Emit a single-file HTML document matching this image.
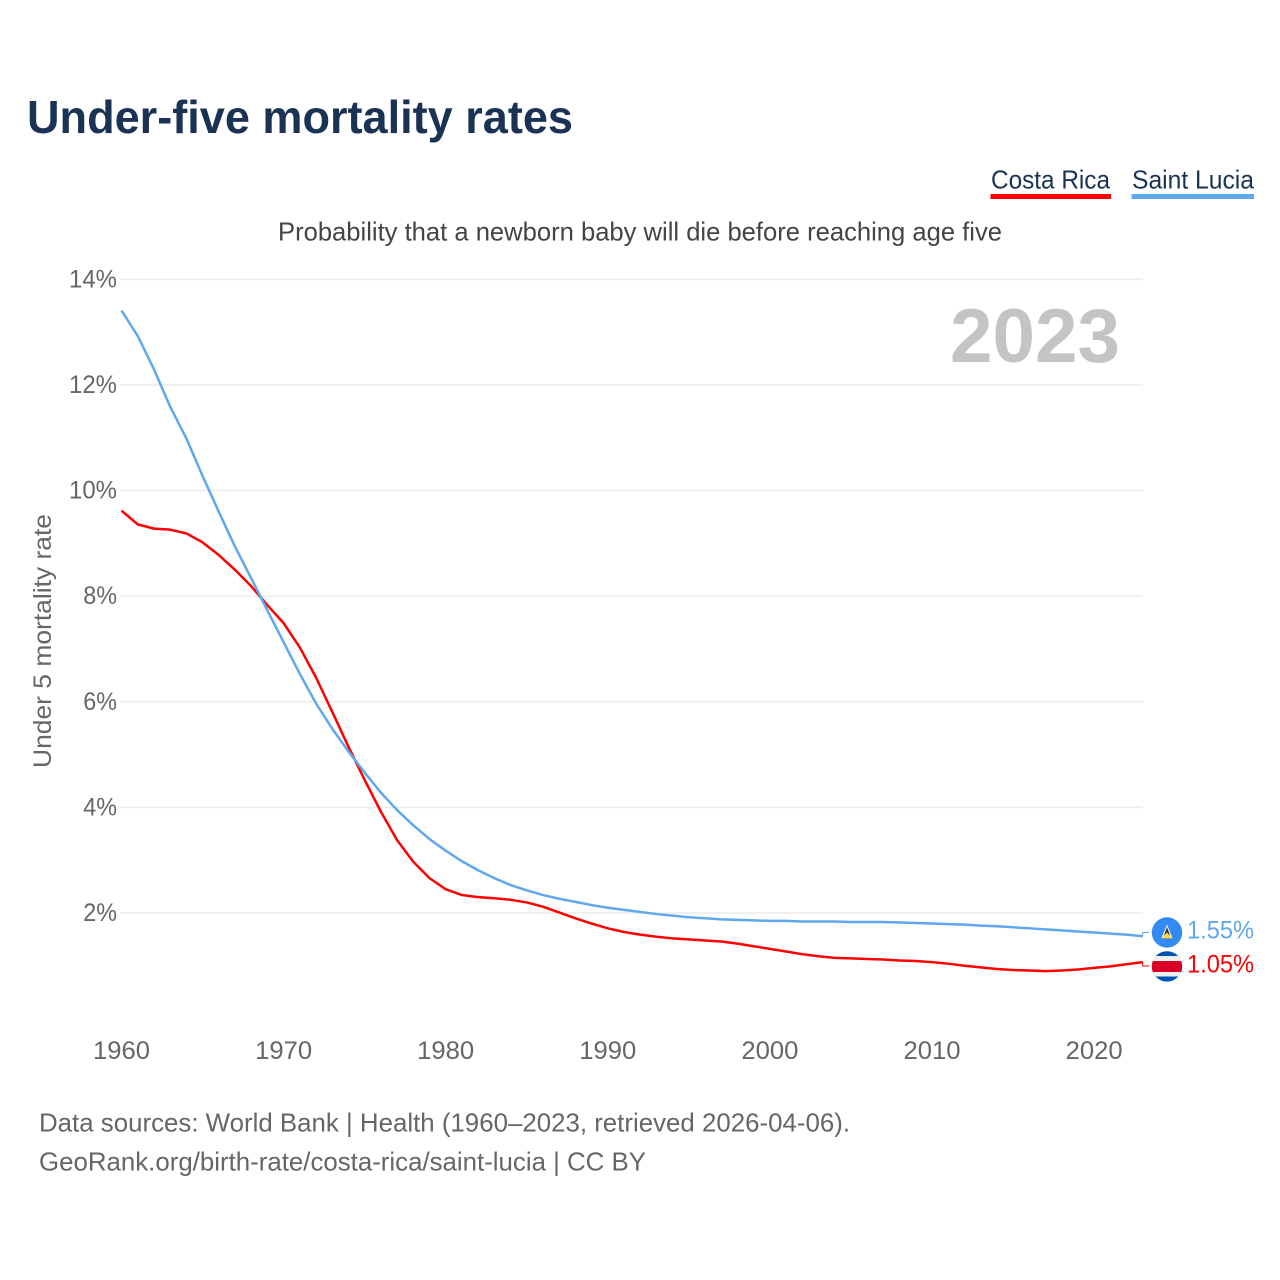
<!DOCTYPE html>
<html lang="en">
<head>
<meta charset="utf-8">
<title>Under-five mortality rates</title>
<style>
  html, body { margin: 0; padding: 0; background: #ffffff; }
  #chart { display: block; width: 1280px; height: 1280px; font-family: "Liberation Sans", sans-serif; }
  .tick { font-size: 25px; fill: #666666; }
</style>
</head>
<body>
<svg id="chart" xmlns="http://www.w3.org/2000/svg" width="1280" height="1280" viewBox="0 0 1280 1280">
  <rect x="0" y="0" width="1280" height="1280" fill="#ffffff"/>
  <text x="27" y="133" font-size="46" font-weight="700" fill="#1a3355" textLength="546" lengthAdjust="spacingAndGlyphs">Under-five mortality rates</text>

  <g>
    <text x="991" y="188.5" font-size="26" fill="#1a3355" textLength="119" lengthAdjust="spacingAndGlyphs">Costa Rica</text>
    <rect x="990.5" y="194" width="120.5" height="5" fill="#ff0000"/>
  </g>
  <g>
    <text x="1132" y="188.5" font-size="26" fill="#1a3355" textLength="122" lengthAdjust="spacingAndGlyphs">Saint Lucia</text>
    <rect x="1131.5" y="194" width="122.5" height="5" fill="#5fa8ee"/>
  </g>

  <text x="278" y="240.5" font-size="26" fill="#444444" textLength="724" lengthAdjust="spacingAndGlyphs">Probability that a newborn baby will die before reaching age five</text>

  <g id="grid"></g>
  <g id="yticks"></g>
  <g id="xticks"></g>

  <text x="950" y="362" font-size="76" font-weight="700" fill="#c4c4c4" textLength="170" lengthAdjust="spacingAndGlyphs">2023</text>
  <text transform="translate(51,768) rotate(-90)" x="0" y="0" font-size="25" fill="#666666" textLength="254" lengthAdjust="spacingAndGlyphs">Under 5 mortality rate</text>

  <g id="series"></g>

  <defs>
    <clipPath id="clip-lc"><circle cx="1167" cy="932.5" r="15.2"/></clipPath>
    <clipPath id="clip-cr"><circle cx="1167" cy="966.4" r="15.2"/></clipPath>
  </defs>
  <g clip-path="url(#clip-lc)">
    <rect x="1151" y="917" width="32" height="32" fill="#338af3"/>
    <polygon points="1167,924.5 1172.6,938.2 1161.4,938.2" fill="#f0f0f0"/>
    <polygon points="1167,927 1171,938.2 1163,938.2" fill="#333333"/>
    <polygon points="1167,932.5 1172.6,938.2 1161.4,938.2" fill="#ffda44"/>
  </g>
  <g clip-path="url(#clip-cr)">
    <rect x="1151" y="951" width="32" height="31" fill="#0052b4"/>
    <rect x="1151" y="956" width="32" height="20.5" fill="#f0f0f0"/>
    <rect x="1151" y="961" width="32" height="11" fill="#d80027"/>
  </g>

  <text id="label-lc" x="1187" y="938.5" font-size="25" fill="#5fa8ee" textLength="67" lengthAdjust="spacingAndGlyphs"></text>
  <text id="label-cr" x="1187" y="972.5" font-size="25" fill="#ff0000" textLength="67" lengthAdjust="spacingAndGlyphs"></text>

  <text x="39" y="1131.5" font-size="26" fill="#666666" textLength="811" lengthAdjust="spacingAndGlyphs">Data sources: World Bank | Health (1960–2023, retrieved 2026-04-06).</text>
  <text x="39" y="1170.5" font-size="26" fill="#666666" textLength="607" lengthAdjust="spacingAndGlyphs">GeoRank.org/birth-rate/costa-rica/saint-lucia | CC BY</text>
</svg>

<script>
const startYear = 1960;
const yTickValues = [2, 4, 6, 8, 10, 12, 14];
const yTickLabels = ["2%", "4%", "6%", "8%", "10%", "12%", "14%"];
const xTickValues = [1960, 1970, 1980, 1990, 2000, 2010, 2020];
const xTickLabels = ["1960", "1970", "1980", "1990", "2000", "2010", "2020"];
const costaRicaValues = [
  9.62, 9.36, 9.28, 9.26, 9.19, 9.02, 8.78, 8.50, 8.19, 7.83,
  7.49, 7.03, 6.46, 5.81, 5.15, 4.52, 3.92, 3.38, 2.97, 2.66,
  2.45, 2.34, 2.30, 2.28, 2.25, 2.20, 2.12, 2.01, 1.90, 1.80,
  1.71, 1.64, 1.59, 1.55, 1.52, 1.50, 1.48, 1.46, 1.42, 1.37,
  1.32, 1.27, 1.22, 1.18, 1.15, 1.14, 1.13, 1.12, 1.10, 1.09,
  1.07, 1.04, 1.00, 0.97, 0.94, 0.92, 0.91, 0.90, 0.91, 0.93,
  0.96, 0.99, 1.03, 1.07
];
const saintLuciaValues = [
  13.41, 12.93, 12.30, 11.59, 10.99, 10.28, 9.60, 8.94, 8.34, 7.73,
  7.13, 6.53, 5.97, 5.49, 5.06, 4.66, 4.28, 3.95, 3.66, 3.40,
  3.18, 2.98, 2.81, 2.66, 2.53, 2.43, 2.34, 2.27, 2.21, 2.15,
  2.10, 2.06, 2.02, 1.98, 1.95, 1.92, 1.90, 1.88, 1.87, 1.86,
  1.85, 1.85, 1.84, 1.84, 1.84, 1.83, 1.83, 1.83, 1.82, 1.81,
  1.80, 1.79, 1.78, 1.76, 1.75, 1.73, 1.71, 1.69, 1.67, 1.65,
  1.63, 1.61, 1.59, 1.56
];
const endValueLabels = ["1.05%", "1.55%"];

const SVG_NS = "http://www.w3.org/2000/svg";
function xScale(year) { return 121.5 + (year - 1960) * 16.21; }
function yScale(value) { return 1018.6 - value * 52.8; }
function make(tag) { return document.createElementNS(SVG_NS, tag); }

const gridGroup = document.getElementById("grid");
const yTickGroup = document.getElementById("yticks");
yTickValues.forEach(function (v, i) {
  const line = make("line");
  
  
  line.setAttribute("x1", 120.5);
  line.setAttribute("x2", xScale(2023));
  line.setAttribute("y1", yScale(v));
  line.setAttribute("y2", yScale(v));
  line.setAttribute("stroke", "#ececec");
  line.setAttribute("stroke-width", 1.5);
  gridGroup.appendChild(line);

  const label = make("text");
  
  
  label.setAttribute("class", "tick");
  label.setAttribute("text-anchor", "end");
  label.setAttribute("x", 117);
  label.setAttribute("y", yScale(v) + 8);
  label.setAttribute("textLength", (yTickLabels[i].length - 1) * 14.25 + 19.5);
  label.setAttribute("lengthAdjust", "spacingAndGlyphs");
  label.textContent = yTickLabels[i];
  yTickGroup.appendChild(label);
});

const xTickGroup = document.getElementById("xticks");
xTickValues.forEach(function (v, i) {
  const label = make("text");
  
  
  label.setAttribute("class", "tick");
  label.setAttribute("text-anchor", "middle");
  label.setAttribute("x", xScale(v));
  label.setAttribute("y", 1059);
  label.setAttribute("textLength", 57);
  label.setAttribute("lengthAdjust", "spacingAndGlyphs");
  label.textContent = xTickLabels[i];
  xTickGroup.appendChild(label);
});

function linePath(values) {
  return values.map(function (v, i) {
    return (i ? "L" : "M") + xScale(startYear + i).toFixed(2) + " " + yScale(v).toFixed(2);
  }).join(" ");
}
function connectorPath(values, labelY) {
  const lastX = xScale(startYear + values.length - 1);
  return "M" + lastX.toFixed(2) + " " + yScale(values[values.length - 1]).toFixed(2) +
         " L" + lastX.toFixed(2) + " " + labelY + " L1149 " + labelY;
}

const seriesGroup = document.getElementById("series");

const saintLuciaLine = make("path");


saintLuciaLine.setAttribute("d", linePath(saintLuciaValues));
saintLuciaLine.setAttribute("fill", "none");
saintLuciaLine.setAttribute("stroke", "#5fa8ee");
saintLuciaLine.setAttribute("stroke-width", 2.5);
saintLuciaLine.setAttribute("stroke-linejoin", "round");

const costaRicaLine = make("path");


costaRicaLine.setAttribute("d", linePath(costaRicaValues));
costaRicaLine.setAttribute("fill", "none");
costaRicaLine.setAttribute("stroke", "#ff0000");
costaRicaLine.setAttribute("stroke-width", 2.5);
costaRicaLine.setAttribute("stroke-linejoin", "round");

const costaRicaConnector = make("path");


costaRicaConnector.setAttribute("d", connectorPath(costaRicaValues, 966));
costaRicaConnector.setAttribute("fill", "none");
costaRicaConnector.setAttribute("stroke", "#ff0000");
costaRicaConnector.setAttribute("stroke-width", 1);

const saintLuciaConnector = make("path");


saintLuciaConnector.setAttribute("d", connectorPath(saintLuciaValues, 932.5));
saintLuciaConnector.setAttribute("fill", "none");
saintLuciaConnector.setAttribute("stroke", "#5fa8ee");
saintLuciaConnector.setAttribute("stroke-width", 1);

seriesGroup.appendChild(costaRicaLine);
seriesGroup.appendChild(saintLuciaLine);
seriesGroup.appendChild(costaRicaConnector);
seriesGroup.appendChild(saintLuciaConnector);

document.getElementById("label-cr").textContent = endValueLabels[0];
document.getElementById("label-lc").textContent = endValueLabels[1];
</script>
</body>
</html>
